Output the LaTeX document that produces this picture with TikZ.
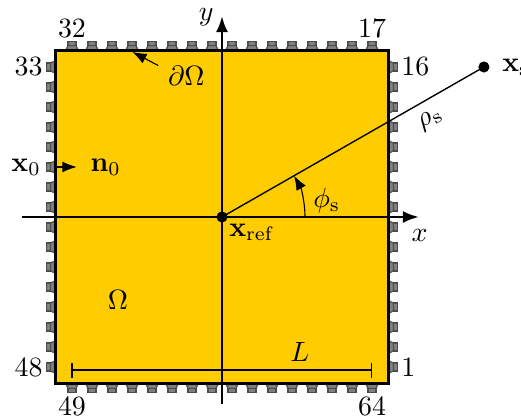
\documentclass[tikz,border=0pt]{standalone}
\usepackage{amsmath,amssymb}
\usepackage{tikz}
\usetikzlibrary{arrows.meta,positioning,calc}
\definecolor{cdDomain}{RGB}{255,204,0}
\definecolor{cdSpk}{RGB}{128,128,128}
\newcommand{\spkdx}{0.252}

\begin{document}
\begin{tikzpicture}[
  font=\normalsize,
  sp/.style={fill=cdSpk, draw=black!70, line width=0.4pt},
  ax/.style={line width=0.8pt, -{Latex[length=2mm]}},
  a/.style={-{Latex[length=1.8mm]}, draw=black},
  dot/.style={circle, fill=black, inner sep=0pt, minimum size=1.4mm},
  num/.style={inner sep=1.5pt}
]
\useasboundingbox (-2.797,-2.533) rectangle (3.767,2.734);
\fill[cdDomain] (-2.1,-2.1) rectangle (2.1,2.1);
% loudspeakers, numbered counter-clockwise from bottom right
\foreach \r in {0,90,180,270} {
  \foreach \k in {0,...,15} {
    \begin{scope}[rotate=\r, shift={(2.1,-1.89+\spkdx*\k)}]
      \draw[sp] (0,-0.08) -- (0.06,-0.05) -- (0.06,0.05) -- (0,0.08) -- cycle;
      \draw[sp] (0.06,-0.05) rectangle (0.115,0.05);
    \end{scope}
  }
}
\draw[line width=0.9pt] (-2.1,-2.1) rectangle (2.1,2.1);
% axes
\coordinate (xa) at (-2.52,0);
\coordinate (xb) at (2.48,0);
\coordinate (ya) at (0,-2.35);
\coordinate (yb) at (0,2.53);
\draw[ax] (xa) -- (xb);
\draw[ax] (ya) -- (yb);
\node (xl) at (2.49,-0.23) {$x$};
\node (yl) at (-0.2,2.52) {$y$};
% speaker numbers
\node[num, anchor=west] (n1) at (2.2,-1.89) {1};
\node[num, anchor=west] (n16) at (2.2,1.89) {16};
\node[num, anchor=south] (n17) at (1.89,2.2) {17};
\node[num, anchor=south] (n32) at (-1.89,2.2) {32};
\node[num, anchor=east] (n33) at (-2.2,1.89) {33};
\node[num, anchor=east] (n48) at (-2.2,-1.89) {48};
\node[num, anchor=north] (n49) at (-1.89,-2.2) {49};
\node[num, anchor=north] (n64) at (1.89,-2.2) {64};
% reference point and source
\node[dot] (xr) at (0,0) {};
\node[anchor=north west, inner sep=1pt] (xrl) at (0.05,-0.05) {$\mathbf{x}_\mathrm{ref}$};
\node[dot] (xs) at (3.30,1.89) {};
\node[right=0.3mm of xs] (xsl) {$\mathbf{x}_\mathrm{s}$};
\draw[line width=0.5pt] (xr.center) -- node[sloped, below, pos=0.76] (rho) {$\rho_\mathrm{s}$} (xs.center);
\draw[a] (1.046,0) arc[start angle=0, end angle=29.8, radius=1.046];
\node (phi) at (1.32,0.21) {$\phi_\mathrm{s}$};
% boundary
\node (dO) at (-0.45,1.78) {$\partial\Omega$};
\coordinate (bd) at (-1.13,2.08);
\draw[a] (dO.160) -- (bd);
% normal
\coordinate (x0p) at (-2.1,0.63);
\coordinate (n0p) at (-1.83,0.63);
\node[anchor=east, inner sep=1pt] (x0) at (-2.24,0.63) {$\mathbf{x}_0$};
\draw[a] (x0p) -- (n0p);
\node[right=0.5mm of n0p] (n0) {$\mathbf{n}_0$};
% domain
\node (om) at (-1.31,-1.05) {$\Omega$};
\coordinate (la) at (-1.90,-1.93);
\coordinate (lb) at (1.89,-1.93);
\draw[{Bar[width=1.9mm]}-{Bar[width=1.9mm]}, line width=0.5pt] (la) -- (lb);
\node (lL) at (0.98,-1.70) {$L$};
\end{tikzpicture}
\end{document}
